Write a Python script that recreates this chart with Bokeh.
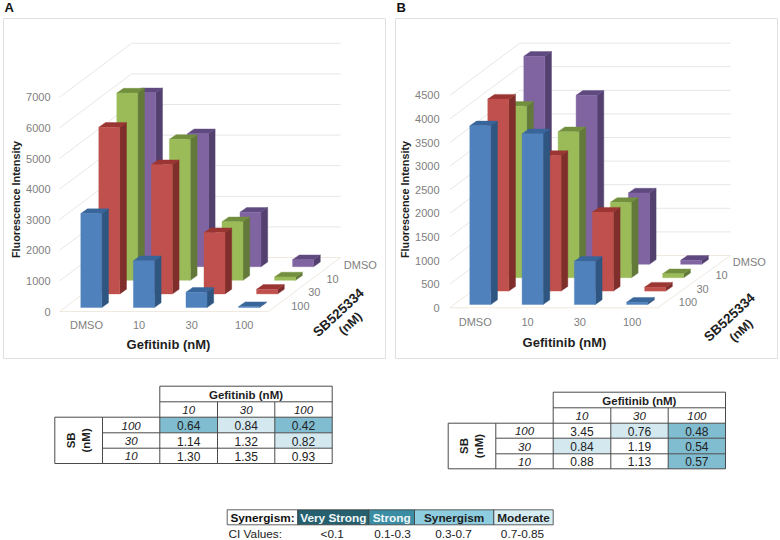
from bokeh.plotting import figure
from bokeh.models import Range1d
from bokeh.core.properties import value
from bokeh.embed import file_html
from bokeh.resources import INLINE

# ---------- data ----------
gefitinib_cats = ["DMSO", "10", "30", "100"]
sb_cats = ["100", "30", "10", "DMSO"]

a_sb100 = [3070, 1530, 500, 30]
a_sb30 = [5445, 4225, 2003, 150]
a_sb10 = [6120, 4607, 1915, 110]
a_sbdmso = [5686, 4346, 1780, 230]
a_ticks = [0, 1000, 2000, 3000, 4000, 5000, 6000, 7000]

b_sb100 = [3786, 3616, 917, 50]
b_sb30 = [4068, 2875, 1674, 85]
b_sb10 = [3635, 3093, 1596, 85]
b_sbdmso = [4407, 3580, 1511, 85]
b_ticks = [0, 500, 1000, 1500, 2000, 2500, 3000, 3500, 4000, 4500]

table_cols = ["10", "30", "100"]
table_rows = ["100", "30", "10"]
ci_a = [[0.64, 0.84, 0.42], [1.14, 1.32, 0.82], [1.30, 1.35, 0.93]]
ci_b = [[3.45, 0.76, 0.48], [0.84, 1.19, 0.54], [0.88, 1.13, 0.57]]

legend_heads = ["Very Strong", "Strong", "Synergism", "Moderate"]
legend_vals = ["<0.1", "0.1-0.3", "0.3-0.7", "0.7-0.85"]

# ---------- styles / layout ----------
FONT = value("Liberation Sans")
GRAY = "#808080"
INK = "#1E1E1E"
series_colors = [
    ("#4F81BD", "#2F5680", "#38659A"),
    ("#C0504D", "#7F2E2C", "#9A3533"),
    ("#9BBB59", "#62793A", "#728F3E"),
    ("#8064A2", "#53406E", "#5F4A80"),
]

p = figure(width=780, height=540, x_range=Range1d(0, 780), y_range=Range1d(540, 0),
           output_backend="svg", toolbar_location=None, min_border=0)
p.axis.visible = False
p.grid.visible = False
p.outline_line_color = None


def label(x, y, t, size=11, color=GRAY, align="center", base="middle", bold=False,
          italic=False, angle=0):
    style = "bold" if bold else ("italic" if italic else "normal")
    p.text(x=[x], y=[y], text=[t], text_font=FONT, text_font_size=f"{size}px",
           text_color=color, text_align=align, text_baseline=base,
           text_font_style=style, angle=angle, angle_units="deg")


def panel(letter, lx, frame, series, ticks, unit, g):
    x0, x1, y0, y1 = frame
    p.quad(left=[x0], right=[x1], top=[y0], bottom=[y1], fill_color="white",
           line_color="#E0E0E0", line_width=1)
    label(lx, 7, letter, size=13, color="#111111", align="left", bold=True)

    fx0, fx1, fy = g["fx0"], g["fx1"], g["fy"]
    ddx, ddy = g["ddx"], g["ddy"]
    ppu = g["ppu"]
    backx = g["backx"]
    # walls
    xs, ys = [], []
    for t in ticks[1:]:
        h = (t / unit) * ppu
        xs.append([fx0, fx0 + ddx, backx])
        ys.append([fy - h, fy + ddy - h, fy + ddy - h])
    p.multi_line(xs, ys, line_color="#E6E6E6", line_width=1)
    # floor
    p.multi_line([[fx0, fx1, backx, fx0 + ddx, fx0]],
                 [[fy, fy, fy + ddy, fy + ddy, fy]],
                 line_color="#EFE9E0", line_width=1)

    # bars, back row first
    bw, step = g["bw"], g["step"]
    rdx, rdy = g["rdx"], g["rdy"]
    sx, sy = g["sx"], g["sy"]
    for r in range(3, -1, -1):
        front, side, top = series_colors[r]
        fxs, fys, sxs, sys_, txs, tys = [], [], [], [], [], []
        for c, v in enumerate(series[r]):
            l = g["bx"] + c * step + r * rdx
            rr = l + bw
            b = g["by"] + r * rdy
            tp = b - v / unit * ppu
            fxs.append([l, rr, rr, l])
            fys.append([b, b, tp, tp])
            sxs.append([rr, rr + sx, rr + sx, rr])
            sys_.append([b, b + sy, tp + sy, tp])
            txs.append([l, rr, rr + sx, l + sx])
            tys.append([tp, tp, tp + sy, tp + sy])
        p.patches(sxs, sys_, fill_color=side, line_color=side, line_width=0.4)
        p.patches(txs, tys, fill_color=top, line_color=top, line_width=0.4)
        p.patches(fxs, fys, fill_color=front, line_color=front, line_width=0.4)

    # labels
    for t in ticks:
        label(g["tick_x"], fy - t / unit * ppu, str(t), align="right")
    for c, t in enumerate(gefitinib_cats):
        label(g["cat_x"] + c * step, g["cat_y"], t)
    for (tx, ty), t in zip(g["row_pos"], sb_cats):
        label(tx, ty, t, align="left")
    label(g["yl"][0], g["yl"][1], "Fluorescence Intensity", size=10.8, color=INK, bold=True, angle=90)
    label(g["xl"][0], g["xl"][1], "Gefitinib (nM)", size=13, color=INK, bold=True)
    label(g["sb1"][0], g["sb1"][1], "SB525334", size=13.5, color=INK, bold=True, angle=43)
    label(g["sb2"][0], g["sb2"][1], "(nM)", size=12.5, color=INK, bold=True, angle=43)


panel("A", 4, (3, 385, 18, 358), [a_sb100, a_sb30, a_sb10, a_sbdmso], a_ticks, 1000, dict(
    fx0=59, fx1=268, fy=311, ddx=72, ddy=-54, ppu=30.6, backx=340,
    bw=21, step=52.6, bx=80.3, by=307, rdx=18, rdy=-13.6, sx=6.7, sy=-4.7,
    tick_x=50, cat_x=86, cat_y=324,
    row_pos=[(290.7, 305), (307.7, 291), (326, 278), (343.3, 264)],
    yl=(15.7, 199), xl=(168, 344), sb1=(338, 312), sb2=(350, 323)))

panel("B", 396, (395, 777, 18, 358), [b_sb100, b_sb30, b_sb10, b_sbdmso], b_ticks, 500, dict(
    fx0=449.3, fx1=657.3, fy=307.3, ddx=70, ddy=-52.3, ppu=23.6, backx=730,
    bw=21, step=52.3, bx=469.3, by=304, rdx=18, rdy=-13.4, sx=6.7, sy=-4.7,
    tick_x=439, cat_x=474.7, cat_y=321,
    row_pos=[(678.3, 301.7), (696, 288.3), (715, 274.7), (732.3, 261)],
    yl=(404, 199), xl=(564, 342), sb1=(729, 316.7), sb2=(740.7, 330)))


def ci_fill(v):
    if v < 0.7:
        return "#80BDD1"
    if v < 0.85:
        return "#D4E8F0"
    return "white"


def table(xs, ys, vals):
    line = "#4A4A4A"
    # cell fills
    for i, row in enumerate(vals):
        for j, v in enumerate(row):
            p.quad(left=[xs[j + 2]], right=[xs[j + 3]], top=[ys[i + 2]], bottom=[ys[i + 3]],
                   fill_color=ci_fill(v), line_color=None)
            label((xs[j + 2] + xs[j + 3]) / 2, (ys[i + 2] + ys[i + 3]) / 2 + 0.5, f"{v:.2f}",
                  size=12, color="#222222")
    # rules
    mx = [[xs[2], xs[5]], [xs[2], xs[5]], [xs[0], xs[5]], [xs[1], xs[5]], [xs[1], xs[5]], [xs[0], xs[5]],
          [xs[0], xs[0]], [xs[1], xs[1]], [xs[2], xs[2]], [xs[3], xs[3]], [xs[4], xs[4]], [xs[5], xs[5]]]
    my = [[ys[0], ys[0]], [ys[1], ys[1]], [ys[2], ys[2]], [ys[3], ys[3]], [ys[4], ys[4]], [ys[5], ys[5]],
          [ys[2], ys[5]], [ys[2], ys[5]], [ys[0], ys[5]], [ys[1], ys[5]], [ys[1], ys[5]], [ys[0], ys[5]]]
    p.multi_line(mx, my, line_color=line, line_width=1)
    label((xs[2] + xs[5]) / 2, (ys[0] + ys[1]) / 2 + 0.5, "Gefitinib (nM)", size=11.5, color=INK, bold=True)
    for j, t in enumerate(table_cols):
        label((xs[j + 2] + xs[j + 3]) / 2, (ys[1] + ys[2]) / 2 + 0.5, t, size=11.5, color="#222222", italic=True)
    for i, t in enumerate(table_rows):
        label((xs[1] + xs[2]) / 2, (ys[i + 2] + ys[i + 3]) / 2 + 0.5, t, size=11.5, color="#222222", italic=True)
    cx = (xs[0] + xs[1]) / 2
    cy = (ys[2] + ys[5]) / 2
    label(cx - 8, cy, "SB", size=11.5, color=INK, bold=True, angle=90)
    label(cx + 7, cy, "(nM)", size=11.5, color=INK, bold=True, angle=90)


table([54.3, 102, 159.3, 217, 274.3, 331.7], [385.7, 401.3, 416.7, 432.3, 447.7, 463], ci_a)
table([447.7, 495.3, 552.7, 610.3, 667.7, 725], [391.7, 407.3, 422.7, 437.7, 453.3, 468.3], ci_b)

# synergism key
kx = [226.7, 297.3, 368.3, 414, 493.3, 552.7]
ky0, ky1 = 509.3, 524.3
kfill = ["#FFFFFF", "#26606F", "#3B8DA3", "#8ECDDF", "#D5ECF3"]
ktext = ["#111111", "#F2F8FA", "#F2F8FA", "#1E1E1E", "#1E1E1E"]
for i, t in enumerate(["Synergism:"] + legend_heads):
    p.quad(left=[kx[i]], right=[kx[i + 1]], top=[ky0], bottom=[ky1], fill_color=kfill[i],
           line_color="#3A3A3A", line_width=0.8)
    label((kx[i] + kx[i + 1]) / 2, (ky0 + ky1) / 2 + 0.5, t, size=11.8, color=ktext[i], bold=True)
label(228, 533.3, "CI Values:", size=11.8, color="#222222", align="left")
for cx, t in zip([331.7, 392, 453, 522], legend_vals):
    label(cx, 533.3, t, size=11.8, color="#222222")

open("out.html", "w").write(file_html(p, INLINE))
